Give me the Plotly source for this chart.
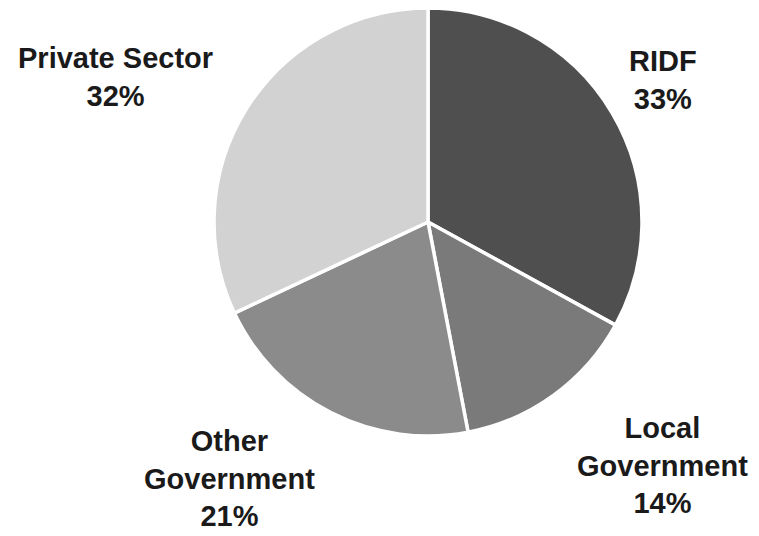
import plotly.graph_objects as go

# Funding shares by source
sources = ["RIDF", "Local Government", "Other Government", "Private Sector"]
shares = [33, 14, 21, 32]
label_lines = [["RIDF"], ["Local", "Government"], ["Other", "Government"], ["Private Sector"]]
slice_colors = ["#4f4f4f", "#7a7a7a", "#8b8b8b", "#d2d2d2"]

W, H = 759, 536
cx, cy, r = 428, 222, 214

fig = go.Figure(go.Pie(
    labels=sources,
    values=shares,
    sort=False,
    direction="clockwise",
    rotation=0,
    marker=dict(colors=slice_colors, line=dict(color="white", width=3.5)),
    textinfo="none",
    hoverinfo="label+percent",
    showlegend=False,
    domain=dict(x=[(cx - r) / W, (cx + r) / W], y=[(H - cy - r) / H, (H - cy + r) / H]),
))

# label block centres in pixels (x, y from top)
label_pos = [(663, 80), (662, 465), (229, 478), (115, 77)]
for lines, val, (px, py) in zip(label_lines, shares, label_pos):
    text = "<br>".join(f"<b>{t}</b>" for t in lines + [f"{val}%"])
    fig.add_annotation(
        x=px / W, y=1 - py / H, xref="paper", yref="paper",
        text=text, showarrow=False, xanchor="center", yanchor="middle",
        font=dict(family="Liberation Sans, Arial, sans-serif", size=29, color="#1a1a1a"),
    )

fig.update_layout(
    width=W, height=H,
    margin=dict(l=0, r=0, t=0, b=0),
    paper_bgcolor="white",
    plot_bgcolor="white",
)

fig.write_html("out.html")
